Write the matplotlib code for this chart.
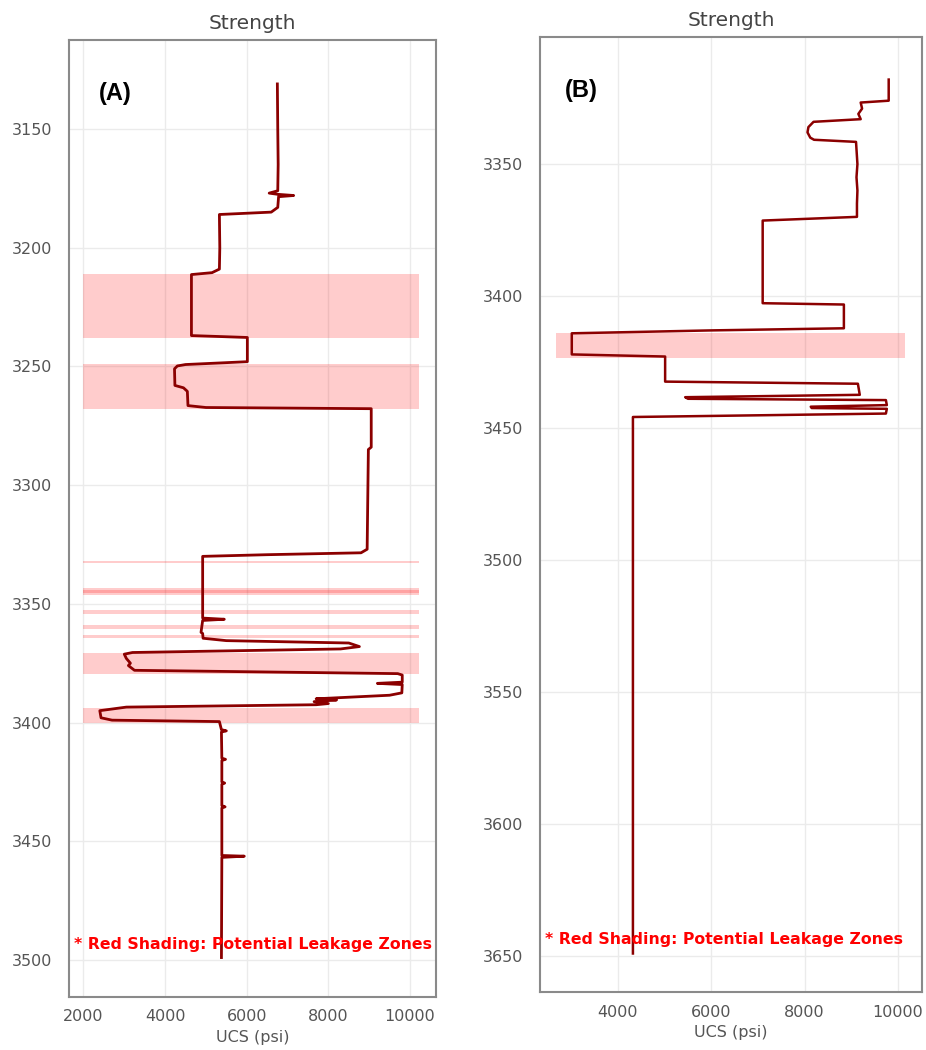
import numpy as np
import matplotlib.pyplot as plt

# well A: depth (ft) vs UCS (psi)
depth_a = [3131, 3150, 3165, 3176, 3177, 3177.5, 3178, 3178.5, 3183, 3185, 3186,
           3200, 3209, 3210.5, 3211.3, 3237, 3237.8, 3248, 3249.2, 3249.8, 3251,
           3258, 3259, 3260.5, 3266.5, 3267.3, 3267.8, 3284, 3285, 3327, 3328.5,
           3329.3, 3330, 3356, 3356.5, 3357, 3362, 3362.5, 3364.5, 3365.5, 3366.5,
           3368, 3369, 3370.5, 3371.2, 3373, 3375, 3376, 3378, 3379.4, 3380, 3383,
           3383.5, 3384, 3387.5, 3388.5, 3389.5, 3390, 3390.5, 3391.2, 3392, 3392.5,
           3393.5, 3395, 3398, 3399, 3399.6, 3403, 3403.5, 3404, 3415, 3415.5, 3416,
           3425, 3425.5, 3426, 3435, 3435.5, 3436, 3456, 3456.3, 3456.8, 3499]
ucs_a = [6750, 6760, 6770, 6760, 6550, 6760, 7150, 6780, 6760, 6600, 5330,
         5340, 5330, 5150, 4645, 4645, 6015, 6015, 4500, 4300, 4230,
         4240, 4450, 4545, 4560, 5000, 9050, 9050, 8980, 8950, 8800,
         6500, 4920, 4920, 5450, 4920, 4880, 4920, 4930, 5500, 8500,
         8760, 8300, 3200, 3000, 3050, 3150, 3100, 3250, 9700, 9810, 9810,
         9200, 9810, 9800, 9500, 8300, 7700, 8200, 7650, 8000, 7700,
         3050, 2400, 2430, 2700, 5330, 5380, 5500, 5380, 5390, 5480, 5390,
         5390, 5460, 5390, 5390, 5470, 5390, 5390, 5940, 5390, 5380]

# well B
depth_b = [3318, 3326, 3326.7, 3329, 3331, 3333, 3334, 3336, 3338, 3340, 3340.8,
           3341.6, 3350, 3355, 3360, 3365, 3370, 3371.4, 3402.7, 3403.2, 3412.2,
           3413.0, 3414.1, 3422.1, 3422.9, 3432.4, 3433.2, 3437.4, 3438.3, 3438.9,
           3439.4, 3441.3, 3441.9, 3442.4, 3442.7, 3444.5, 3445.8, 3550, 3649]
ucs_b = [9800, 9800, 9200, 9230, 9150, 9200, 8190, 8080, 8060, 8120, 8200,
         9100, 9130, 9110, 9130, 9120, 9120, 7100, 7100, 8840, 8840,
         6000, 3010, 3010, 5010, 5010, 9140, 9180, 5440, 5500,
         9740, 9760, 8130, 8150, 9760, 9740, 4320, 4320, 4320]

# potential leakage zones (top, bottom)
zones_a = [(3211, 3238), (3249, 3268), (3331.8, 3332.8), (3343.4, 3346.2),
           (3344.3, 3345.6), (3352.8, 3354.2), (3359.0, 3360.4), (3363.2, 3364.6),
           (3370.6, 3379.4), (3393.7, 3400.0)]
zones_b = [(3414.1, 3423.3)]

shade_x_a = (2000, 10230)
shade_x_b = (2680, 10160)

plt.rcParams['font.family'] = ['DejaVu Sans']

fig = plt.figure(figsize=(9.26, 10.5), dpi=100)
ax_a = fig.add_axes([0.0745, 0.0505, 0.3963, 0.9114])
ax_b = fig.add_axes([0.5832, 0.0552, 0.4125, 0.9095])


def draw_panel(ax, depth, ucs, zones, shade_x, label, label_x, xlim, ylim,
               yticks, xticks, lw):
    for top, bot in zones:
        ax.fill_betweenx([top, bot], shade_x[0], shade_x[1], color='red',
                         alpha=0.2, linewidth=0)
    ax.plot(ucs, depth, color='#8b0000', linewidth=lw, solid_joinstyle='round')

    ax.set_xlim(*xlim)
    ax.set_ylim(*ylim)
    ax.set_xticks(xticks)
    ax.set_yticks(yticks)
    ax.grid(True, color='#ebebeb', linewidth=1)
    ax.set_axisbelow(True)
    ax.tick_params(length=0, labelsize=11.5, labelcolor='#555555')
    ax.tick_params(axis='y', pad=12)
    ax.tick_params(axis='x', pad=9)
    for sp in ax.spines.values():
        sp.set_color('#8a8a8a')
        sp.set_linewidth(1.5)

    ax.set_title('Strength', fontsize=14.5, color='#444444', pad=8)
    ax.set_xlabel('UCS (psi)', fontsize=11.5, color='#555555', labelpad=4)

    ax.text(label_x, 0.944, label, transform=ax.transAxes, fontsize=17,
            fontweight='bold', family='Liberation Sans', ha='center', va='center')
    ax.text(0.014, 0.055, '* Red Shading: Potential Leakage Zones',
            transform=ax.transAxes, color='red', fontsize=11.3, fontweight='bold',
            ha='left', va='center')


draw_panel(ax_a, depth_a, ucs_a, zones_a, shade_x_a, '(A)', 0.125,
           (1645, 10636), (3515.6, 3112.5),
           [3150, 3200, 3250, 3300, 3350, 3400, 3450, 3500],
           [2000, 4000, 6000, 8000, 10000], 2.0)
draw_panel(ax_b, depth_b, ucs_b, zones_b, shade_x_b, '(B)', 0.108,
           (2330, 10514), (3663.6, 3301.9),
           [3350, 3400, 3450, 3500, 3550, 3600, 3650],
           [4000, 6000, 8000, 10000], 1.8)

fig.savefig('out.png', dpi=100)
